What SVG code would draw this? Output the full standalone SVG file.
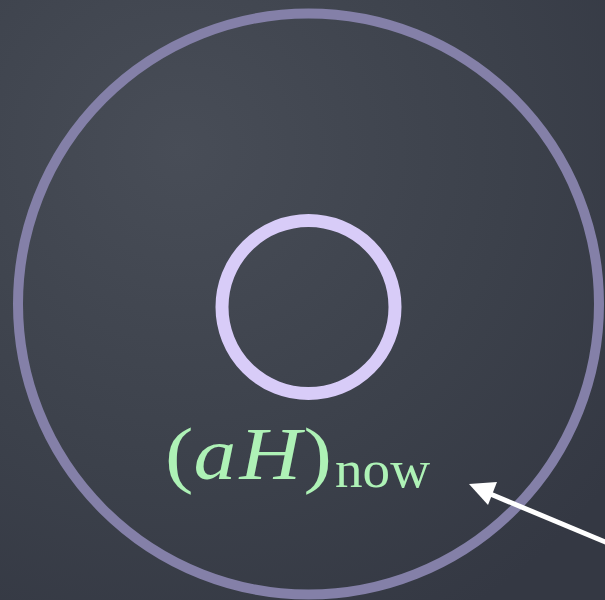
<svg xmlns="http://www.w3.org/2000/svg" width="605" height="600" viewBox="0 0 605 600">
  <defs>
    <radialGradient id="bg" cx="0.3" cy="0.25" r="0.9">
      <stop offset="0" stop-color="#484d57"/>
      <stop offset="0.6" stop-color="#3c414b"/>
      <stop offset="1" stop-color="#343843"/>
    </radialGradient>
    <style>
      .ring { fill: none; }
      .lbl { fill: #aef2b6; font-family: "Liberation Serif", "DejaVu Serif", serif; }
    </style>
  </defs>
  <rect width="605" height="600" fill="url(#bg)"/>
  <g id="outer-circle">
    <circle class="ring" cx="308.5" cy="304" r="290.5" stroke="#8480a8" stroke-width="10"/>
  </g>
  <g id="inner-circle">
    <circle class="ring" cx="308.5" cy="307" r="86.5" stroke="#d8ccf8" stroke-width="13"/>
  </g>
  <g id="label">
    <text class="lbl" x="165" y="479" font-size="74" font-style="italic" textLength="167" lengthAdjust="spacingAndGlyphs"><tspan font-style="normal">(</tspan>a<tspan dx="3">H</tspan><tspan font-style="normal" dx="2">)</tspan></text>
    <text class="lbl" x="335" y="487" font-size="52" textLength="95" lengthAdjust="spacingAndGlyphs">now</text>
  </g>
  <g id="connectors">
    <line x1="610" y1="544" x2="488" y2="493" stroke="#ffffff" stroke-width="5"/>
    <path d="M469,484 L497,482 L488,505 z" fill="#ffffff"/>
  </g>
</svg>
